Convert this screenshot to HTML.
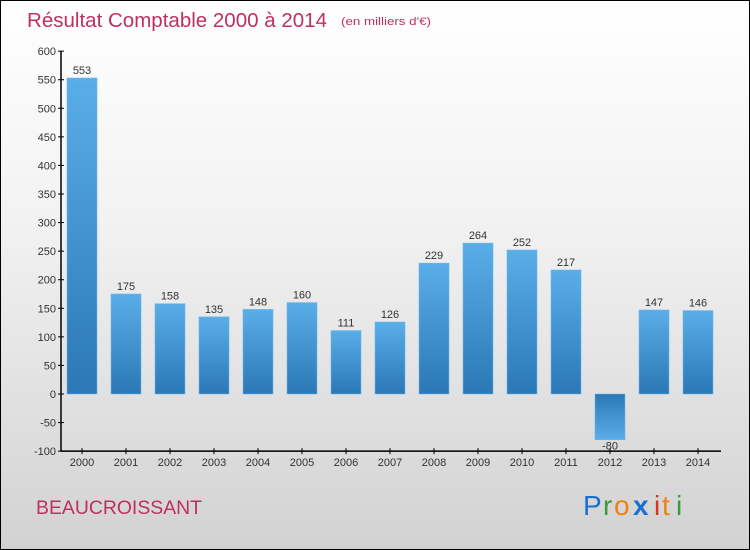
<!DOCTYPE html>
<html><head><meta charset="utf-8"><style>
body{margin:0}
#c{width:748px;height:548px;border:1px solid #000;background:linear-gradient(#ffffff,#f2f2f2 40%,#d2d2d2);position:relative;overflow:hidden;font-family:"Liberation Sans",sans-serif}
</style></head><body>
<div id="c">
<svg width="748" height="548" id="svg">
<defs>
<linearGradient id="gp" x1="0" y1="0" x2="0" y2="1"><stop offset="0" stop-color="#5aaee8"/><stop offset="1" stop-color="#2a78b6"/></linearGradient>
<linearGradient id="gn" x1="0" y1="0" x2="0" y2="1"><stop offset="0" stop-color="#2a78b6"/><stop offset="1" stop-color="#5aaee8"/></linearGradient>
</defs>
<text x="26" y="26" font-size="20" fill="#c0305f" textLength="300" lengthAdjust="spacingAndGlyphs">Résultat Comptable 2000 à 2014</text>
<text x="340" y="24" font-size="11" fill="#c0305f" textLength="90" lengthAdjust="spacingAndGlyphs">(en milliers d'€)</text>
<text x="35" y="513" font-size="19" fill="#c0305f" textLength="166" lengthAdjust="spacingAndGlyphs">BEAUCROISSANT</text>
<g font-size="28" font-family="Liberation Sans,sans-serif">
<text x="582" y="514" fill="#1a6fd0">P</text><text x="602" y="514" fill="#3a9a3a">r</text><text x="613" y="514" fill="#f08010">o</text><text x="632" y="514" fill="#1a6fd0" font-weight="bold">x</text><text x="653" y="514" fill="#e03020">i</text><text x="661" y="514" fill="#f08010">t</text><text x="675" y="514" fill="#3a9a3a">i</text>
</g>
<g id="plot"></g>
</svg>
</div>
<script>
const categories=["2000","2001","2002","2003","2004","2005","2006","2007","2008","2009","2010","2011","2012","2013","2014"];
const values=[553,175,158,135,148,160,111,126,229,264,252,217,-80,147,146];
const yTicks=[600,550,500,450,400,350,300,250,200,150,100,50,0,-50,-100];
const NS="http://www.w3.org/2000/svg";
const g=document.getElementById('plot');
function y(v){return 393-(v)*400/700;}
function x(i){return 81+i*44;}
function el(t,a,txt){const e=document.createElementNS(NS,t);for(const k in a)e.setAttribute(k,a[k]);if(txt!==undefined)e.textContent=txt;g.appendChild(e);return e;}
let ax=el('line',{x1:60,y1:y(600),x2:60,y2:y(-100),stroke:'#000','stroke-width':1.5});


let xa=el('line',{x1:60,y1:y(-100),x2:720,y2:y(-100),stroke:'#000','stroke-width':1.5});


yTicks.forEach(t=>{
  el('line',{x1:57,y1:y(t),x2:63,y2:y(t),stroke:'#000'});
  const l=el('text',{x:55,y:y(t)+4,'font-size':11,fill:'#333','text-anchor':'end'},String(t));
  
  
});
categories.forEach((c,i)=>{
  const v=values[i];
  const top=v>=0?y(v):y(0), h=Math.abs(y(v)-y(0));
  const b=el('rect',{x:x(i)-15,y:top,width:30,height:h,fill:v>=0?'url(#gp)':'url(#gn)',stroke:'#6ab8ec','stroke-width':0.6});
  
  
  el('line',{x1:x(i),y1:y(-100)-3,x2:x(i),y2:y(-100)+3,stroke:'#000'});
  const xl=el('text',{x:x(i),y:y(-100)+15,'font-size':11,fill:'#333','text-anchor':'middle'},c);
  
  
  const vl=el('text',{x:x(i),y:v>=0?y(v)-4:y(v)+10,'font-size':11,fill:'#333','text-anchor':'middle'},String(v));
  
  
});
</script>
</body></html>
